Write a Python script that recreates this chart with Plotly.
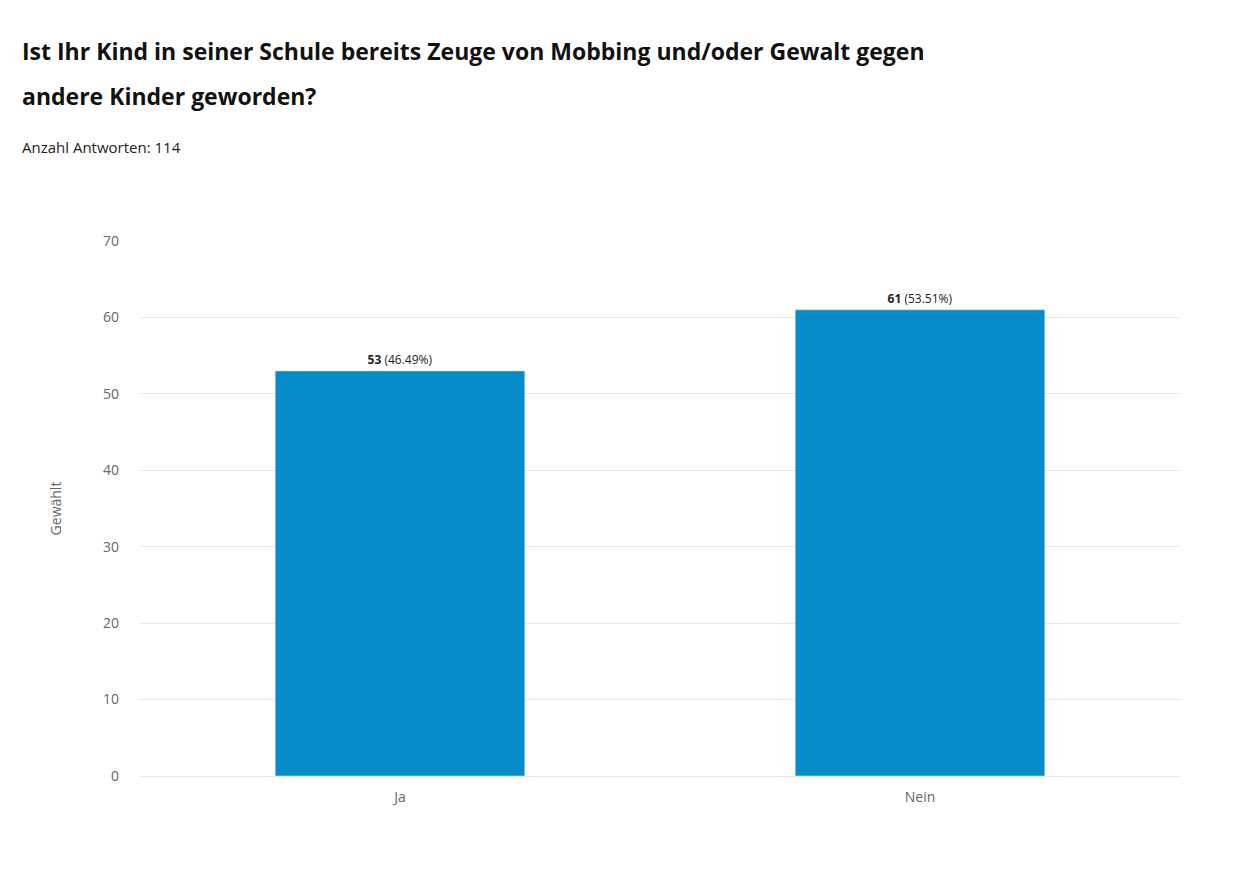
import plotly.graph_objects as go

categories = ["Ja", "Nein"]
counts = [53, 61]
percents = ["46.49%", "53.51%"]
yticks = [0, 10, 20, 30, 40, 50, 60, 70]

PL, PR, PT, PB = 140, 1180, 240, 775
W, H = PR - PL, PB - PT
def px(x): return (x - PL) / W
def py(y): return (PB - y) / H

fig = go.Figure(go.Bar(
    x=categories, y=counts, marker_color="#068CC8",
    text=[f"<b>{c}</b> ({p})" for c, p in zip(counts, percents)],
    textposition="outside", textfont=dict(size=12, color="#222", family="Open Sans"),
    cliponaxis=False,
))
anns = [
    dict(text="<b>Ist Ihr Kind in seiner Schule bereits Zeuge von Mobbing und/oder Gewalt gegen</b>",
         x=px(20), y=py(50), font=dict(size=23, color="#111")),
    dict(text="<b>andere Kinder geworden?</b>", x=px(20), y=py(95), font=dict(size=23, color="#111")),
    dict(text="Anzahl Antworten: 114", x=px(20), y=py(146), font=dict(size=15, color="#222")),
]
for a in anns:
    a.update(xref="paper", yref="paper", xanchor="left", yanchor="middle", showarrow=False)
fig.update_layout(
    width=1235, height=879, plot_bgcolor="white", paper_bgcolor="white",
    margin=dict(l=132, r=63, t=233, b=111),
    bargap=0.52, showlegend=False,
    font=dict(family="Open Sans", color="#666"),
    annotations=anns,
)
fig.update_yaxes(range=[0, 70], tickvals=yticks, gridcolor="#e6e6e6", zeroline=False,
                 title=dict(text="Gewählt", font=dict(size=14, color="#666"), standoff=38),
                 tickfont=dict(size=14), ticklabelstandoff=20)
fig.update_xaxes(showline=True, linecolor="#e6e6e6", tickfont=dict(size=14), ticklabelstandoff=8)
fig.write_html("out.html")
